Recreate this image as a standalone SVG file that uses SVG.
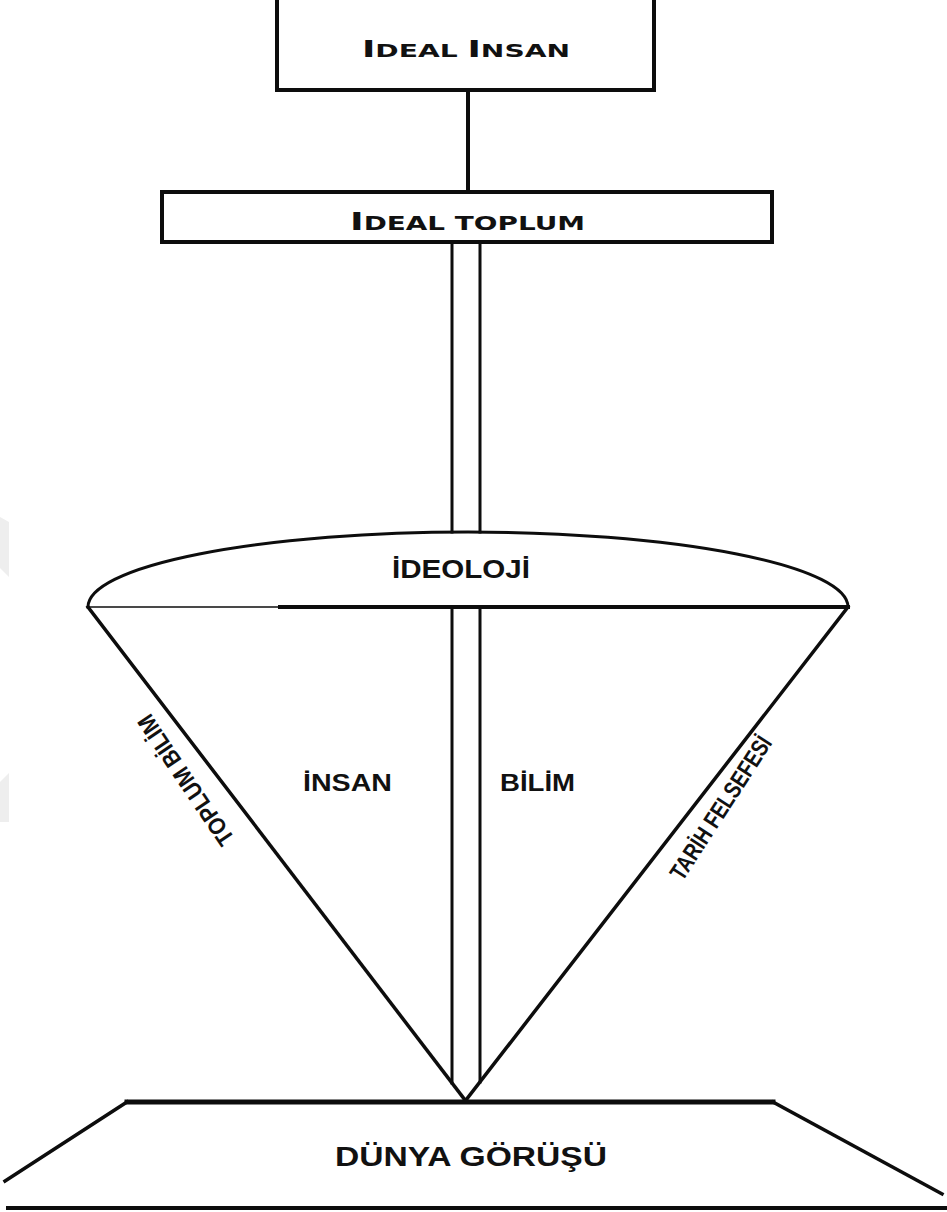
<svg xmlns="http://www.w3.org/2000/svg" width="947" height="1212" viewBox="0 0 947 1212">
  <style>
    .ln { stroke: #0d0d0d; fill: none; stroke-linecap: square; }
    .box { stroke: #0d0d0d; fill: #ffffff; stroke-width: 4; }
    .cap { font-family: 'DejaVu Sans', 'Liberation Sans', sans-serif; font-weight: bold; fill: #111; }
    .lbl { font-family: 'Liberation Sans Narrow', 'Liberation Sans', Arial, sans-serif; font-weight: bold; fill: #111; }
    .wm { fill: #eeeeee; stroke: none; }
  </style>
  <rect x="0" y="0" width="947" height="1212" fill="#ffffff"/>
  <polygon class="wm" points="0,517 9,522 9,577 0,568"/>
  <polygon class="wm" points="0,782 9,773 9,822 0,822"/>

  <g id="connectors">
    <line class="ln" x1="468" y1="90" x2="468" y2="192" stroke-width="4"/>
    <line class="ln" x1="452" y1="243" x2="452" y2="532" stroke-width="3"/>
    <line class="ln" x1="480" y1="243" x2="480" y2="532" stroke-width="3"/>
    <line class="ln" x1="452" y1="607" x2="452" y2="1083" stroke-width="3"/>
    <line class="ln" x1="480" y1="607" x2="480" y2="1082" stroke-width="3"/>
  </g>

  <g id="ideal-insan">
    <path class="ln" d="M277,2 V90 H654 V2" stroke-width="4"/>
    <text class="cap" x="362" y="57" textLength="208" lengthAdjust="spacingAndGlyphs"><tspan font-size="23">I</tspan><tspan font-size="18">DEAL </tspan><tspan font-size="23">I</tspan><tspan font-size="18">NSAN</tspan></text>
  </g>

  <g id="ideal-toplum">
    <rect class="box" x="162" y="192" width="610" height="50"/>
    <text class="cap" x="350" y="230" textLength="235" lengthAdjust="spacingAndGlyphs"><tspan font-size="25">I</tspan><tspan font-size="19">DEAL TOPLUM</tspan></text>
  </g>

  <g id="ideoloji">
    <path class="ln" d="M88,607 A380,75 0 0 1 848,607" stroke-width="3"/>
    <line class="ln" x1="88" y1="607" x2="280" y2="607" stroke-width="1.5" stroke-linecap="butt"/>
    <line class="ln" x1="280" y1="607" x2="848" y2="607" stroke-width="4" stroke-linecap="butt"/>
    <text class="lbl" x="392" y="578" font-size="25" textLength="138" lengthAdjust="spacingAndGlyphs">İDEOLOJİ</text>
  </g>

  <g id="cone">
    <line class="ln" x1="88" y1="607" x2="465" y2="1100" stroke-width="3.5"/>
    <line class="ln" x1="848" y1="607" x2="466" y2="1100" stroke-width="3.5"/>
  </g>

  <g id="toplum-bilim">
    <text class="lbl" font-size="24" text-anchor="middle" textLength="152" lengthAdjust="spacingAndGlyphs" transform="translate(186,780) rotate(-124)" x="0" y="8">TOPLUM BİLİM</text>
  </g>

  <g id="tarih-felsefesi">
    <text class="lbl" font-size="24" text-anchor="middle" textLength="166" lengthAdjust="spacingAndGlyphs" transform="translate(721,808) rotate(-57)" x="0" y="8">TARİH FELSEFESİ</text>
  </g>

  <g id="insan">
    <text class="lbl" x="303" y="791" font-size="24" textLength="89" lengthAdjust="spacingAndGlyphs">İNSAN</text>
  </g>

  <g id="bilim">
    <text class="lbl" x="500" y="791" font-size="24" textLength="75" lengthAdjust="spacingAndGlyphs">BİLİM</text>
  </g>

  <g id="dunya-gorusu">
    <line class="ln" x1="127" y1="1102" x2="773" y2="1102" stroke-width="5"/>
    <line class="ln" x1="127" y1="1102" x2="5" y2="1181" stroke-width="3.5"/>
    <line class="ln" x1="773" y1="1102" x2="942" y2="1194" stroke-width="3.5"/>
    <line class="ln" x1="8" y1="1208" x2="947" y2="1208" stroke-width="4" stroke-linecap="butt"/>
    <text class="lbl" x="335" y="1166" font-size="27" textLength="272" lengthAdjust="spacingAndGlyphs">DÜNYA GÖRÜŞÜ</text>
  </g>
</svg>
